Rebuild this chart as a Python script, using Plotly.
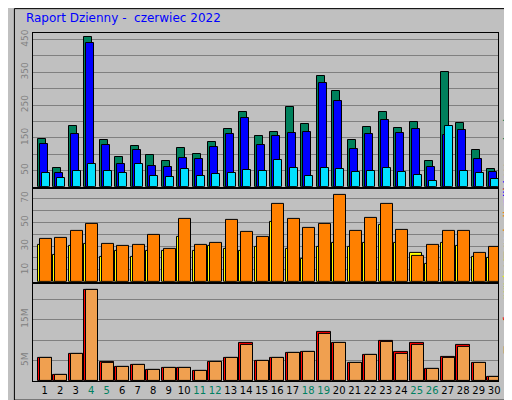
import plotly.graph_objects as go
from plotly.subplots import make_subplots

days = list(range(1, 31))
weekend = [4, 5, 11, 12, 18, 19, 25, 26]

hits = [146, 59, 185, 458, 143, 92, 125, 98, 80, 119, 101, 137, 176, 230, 155,
        167, 245, 191, 338, 293, 143, 182, 230, 179, 197, 80, 350, 194, 113, 53]
files = [131, 41, 161, 440, 128, 71, 113, 65, 62, 89, 86, 122, 161, 209, 128,
         155, 164, 167, 317, 263, 116, 161, 203, 164, 176, 62, 158, 173, 86, 44]
pages = [41, 26, 47, 71, 47, 41, 71, 32, 29, 53, 32, 38, 41, 50, 47,
         83, 59, 32, 59, 53, 44, 47, 56, 44, 35, 17, 185, 47, 41, 23]
visits = [31, 22.5, 30, 32, 21, 26, 21, 26, 26, 38, 26, 30, 27.5, 26, 29,
          50, 27.5, 19, 29, 32.5, 29, 33, 48, 32.5, 24, 15, 33, 30, 21, 20]
sites = [36, 37, 43, 49, 32, 30, 31, 39, 27.5, 53, 31, 33, 52, 42, 38,
         65, 53, 45, 49, 73, 42.5, 54, 65, 44, 22, 31, 43, 42.5, 24, 29]
transfer = [5.7, 1.4, 6.7, 22.3, 4.7, 3.4, 3.9, 2.7, 3.2, 3.2, 2.4, 4.7, 5.7, 9.2, 4.9,
            5.7, 6.9, 7.1, 11.9, 9.4, 4.4, 6.4, 9.9, 7.0, 9.2, 2.9, 6.0, 8.7, 4.4, 1.0]
out = [5.7, 1.4, 6.7, 22.3, 4.4, 3.4, 3.9, 2.7, 3.2, 3.2, 2.4, 4.7, 5.7, 8.9, 4.9,
       5.7, 6.9, 7.1, 11.6, 9.4, 4.4, 6.4, 9.6, 6.7, 8.9, 2.9, 5.7, 8.4, 4.4, 1.0]

fig = make_subplots(rows=3, cols=1, shared_xaxes=True, vertical_spacing=0.0)
line = dict(color="black", width=1)


def bars(row, y, color, offset, width):
    fig.add_trace(go.Bar(x=days, y=y, marker=dict(color=color, line=line),
                         offset=offset, width=width, showlegend=False), row=row, col=1)


bars(1, hits, "#00805c", -0.43, 0.5)
bars(1, files, "#0000ff", -0.3, 0.5)
bars(1, pages, "#00e0ff", -0.17, 0.5)
bars(2, visits, "#ffff00", -0.43, 0.8)
bars(2, sites, "#ff8000", -0.3, 0.75)
bars(3, transfer, "#ff0000", -0.43, 0.88)
bars(3, out, "#f0a050", -0.3, 0.75)


def labels(vals, shown, fmt=str):
    return [fmt(v) if v in shown else "" for v in vals]


ticktext = [f'<span style="color:{"#008060" if d in weekend else "black"}">{d}</span>' for d in days]
for r, dom in zip([1, 2, 3], [[0.558, 1], [0.285, 0.552], [0, 0.279]]):
    fig.update_yaxes(domain=dom, row=r, col=1, showgrid=True, gridcolor="#808080", gridwidth=1,
                     tickangle=-90, tickfont=dict(size=9, color="#808080"), ticks="",
                     showline=True, linecolor="black", mirror=True, zeroline=False, fixedrange=True)
    fig.update_xaxes(row=r, col=1, range=[0.25, 30.25], showline=True, linecolor="black", mirror=True,
                     showgrid=False, ticks="", showticklabels=(r == 3))
top_ticks = list(range(50, 451, 50))
mid_ticks = list(range(10, 71, 10))
bot_ticks = [5, 10, 15, 20]
fig.update_yaxes(row=1, col=1, range=[0, 470], tickvals=top_ticks,
                 ticktext=labels(top_ticks, [50, 150, 250, 350, 450]))
fig.update_yaxes(row=2, col=1, range=[0, 78], tickvals=mid_ticks,
                 ticktext=labels(mid_ticks, [10, 30, 50, 70]))
fig.update_yaxes(row=3, col=1, range=[0, 23.7], tickvals=bot_ticks,
                 ticktext=labels(bot_ticks, [5, 15], lambda v: f"{v}M"))
fig.update_xaxes(row=3, col=1, tickvals=days, ticktext=ticktext, tickfont=dict(size=10, color="black"))

fig.update_layout(
    width=512, height=400, margin=dict(l=20, r=22, t=25, b=20),
    paper_bgcolor="#c0c0c0", plot_bgcolor="#c0c0c0", barmode="overlay", bargap=0,
    font=dict(family="DejaVu Sans"),
    title=dict(text="Raport Dzienny -  czerwiec 2022", x=0.035, y=0.985, yanchor="top",
               font=dict(size=12, color="#0000ff", family="DejaVu Sans")),
    annotations=[
        dict(text='<span style="color:#00e0ff">Strony</span><span style="color:#0000ff">/Pliki/</span>'
                  '<span style="color:#00805c">Wywolania</span>',
             x=1.004, y=0.78, xref="paper", yref="paper", xanchor="left", textangle=-90,
             showarrow=False, font=dict(size=12)),
        dict(text='<span style="color:#ffff00">Wizyty</span><span style="color:#ff8000">/Lokalizacje</span>',
             x=1.004, y=0.42, xref="paper", yref="paper", xanchor="left", textangle=-90,
             showarrow=False, font=dict(size=12)),
        dict(text='<span style="color:#ff0000">Transfer</span><span style="color:#c0e000"> /IN </span>'
                  '<span style="color:#f0a050">/OUT</span>',
             x=1.004, y=0.07, xref="paper", yref="paper", xanchor="left", textangle=-90,
             showarrow=False, font=dict(size=12)),
    ],
    shapes=[dict(type="rect", xref="paper", yref="paper", x0=-0.04, y0=-0.055, x1=1.043, y1=1.07,
                 line=dict(color="black", width=1))],
)
fig.write_html("out.html")
